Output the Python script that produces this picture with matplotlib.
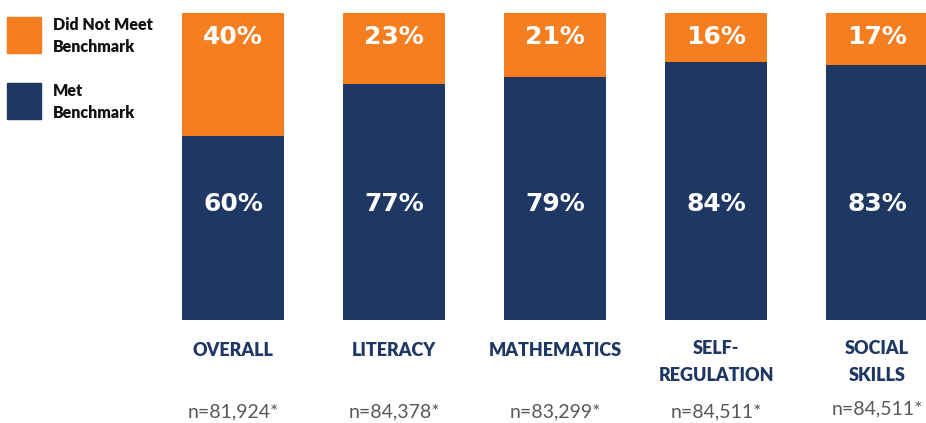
import matplotlib
matplotlib.use("Agg")
import matplotlib.pyplot as plt
from matplotlib.patches import Rectangle

categories = ["OVERALL", "LITERACY", "MATHEMATICS", "SELF-\nREGULATION", "SOCIAL\nSKILLS"]
met = [60, 77, 79, 84, 83]
not_met = [40, 23, 21, 16, 17]
n_labels = ["n=81,924*", "n=84,378*", "n=83,299*", "n=84,511*", "n=84,511*"]

ORANGE = "#F47E20"
NAVY = "#1E3763"
GRAY = "#595959"

W, H = 926, 423
fig = plt.figure(figsize=(W / 100, H / 100), dpi=100)
ax = fig.add_axes([0, 1 - 320 / H, 1, (320 - 13) / H])
x = list(range(len(categories)))
bw = 102 / 161
ax.bar(x, met, width=bw, color=NAVY)
ax.bar(x, not_met, bottom=met, width=bw, color=ORANGE)
ax.set_xlim(-233 / 161, (926 - 233) / 161)
ax.set_ylim(0, 100)
ax.axis("off")

def ydata(py):
    return (320 - py) / (320 - 13) * 100

for i in x:
    ax.text(i, ydata(37), f"{not_met[i]}%", ha="center", va="center", color="white",
            fontsize=18, fontweight="bold", family="DejaVu Sans")
    ax.text(i, ydata(204), f"{met[i]}%", ha="center", va="center", color="white",
            fontsize=18, fontweight="bold", family="DejaVu Sans")
    lab = categories[i]
    if "\n" in lab:
        ax.text(i, ydata(362), lab, ha="center", va="center", color=NAVY, fontsize=13,
                fontweight="heavy", family="Lato", linespacing=1.65, clip_on=False)
    else:
        ax.text(i, ydata(351), lab, ha="center", va="center", color=NAVY, fontsize=13,
                fontweight="heavy", family="Lato", clip_on=False)
    ny = 409 if i == 4 else 412
    ax.text(i, ydata(ny), n_labels[i], ha="center", va="center", color=GRAY, fontsize=14,
            family="Lato", clip_on=False)

# legend
for (y0, col) in [(17, ORANGE), (83, NAVY)]:
    fig.patches.append(Rectangle((7 / W, 1 - (y0 + 36) / H), 34 / W, 36 / H,
                                 transform=fig.transFigure, color=col))
fig.text(53 / W, 1 - 36 / H, "Did Not Meet\nBenchmark", ha="left", va="center",
         fontsize=11.5, fontweight="heavy", family="Lato", color="#111111", linespacing=1.5)
fig.text(53 / W, 1 - 102 / H, "Met\nBenchmark", ha="left", va="center",
         fontsize=11.5, fontweight="heavy", family="Lato", color="#111111", linespacing=1.5)

fig.savefig("out.png", dpi=100)
